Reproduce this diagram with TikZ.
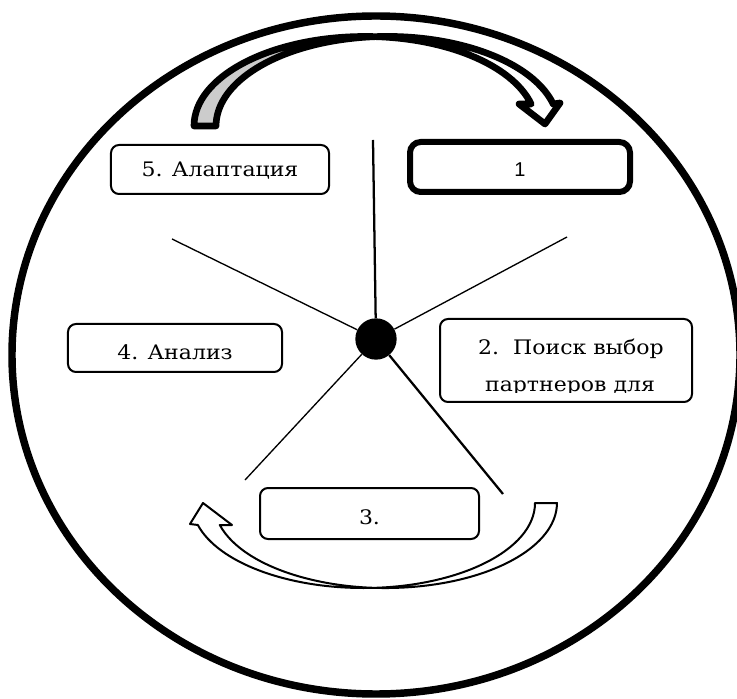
\documentclass[tikz,border=0pt]{standalone}
\usepackage{fontspec}
\setmainfont[FakeStretch=1.1]{DejaVu Serif}
\newfontfamily\plainsans{Liberation Sans}
\begin{document}
\begin{tikzpicture}[x=0.75pt, y=0.75pt,
    stage/.style={draw, rounded corners=6pt, line width=1.5pt, inner sep=0pt, text depth=0pt,
                  font=\fontsize{15}{18}\selectfont},
    bentarrow/.style={line width=5pt, line join=round},
    turnarrow/.style={line width=1.5pt, line join=round, fill=white}]
	\clip (-376,-359) rectangle (361,339);
	\draw[line width=5.6pt] (0,-16) ellipse [x radius=364, y radius=339];
	\node[circle, fill=black, inner sep=0pt, minimum size=31pt] (hub) at (0,0) {};
	\foreach \spoke/\sx/\sy/\spokew in {up/-3/199/1.7pt, upleft/-204/100/1pt, upright/191/102/1pt,
	    lowleft/-131/-141/1pt, lowright/127/-155/1.7pt}{
		\coordinate (\spoke) at (\sx,\sy);
		\draw[line width=\spokew] (hub) -- (\spoke);}
		\node[stage, text height=11pt, minimum width=163.5pt, minimum height=36.75pt] (adapt) at (-156,169.5) {5. Алаптация};
		\node[stage, text height=14pt, line width=4.5pt, rounded corners=8pt, minimum width=165pt, minimum height=37.5pt,
		      font=\plainsans\fontsize{15}{17}\selectfont] (first) at (144,172) {1};
		\node[stage, text height=18pt, minimum width=160.5pt, minimum height=36pt] (analysis) at (-201,-9) {4. Анализ};
		\node[stage, minimum width=189pt, minimum height=62.25pt] (partners) at (190,-21.5) {};
		\node[stage, text height=17pt, minimum width=164.25pt, minimum height=38.25pt] (third) at (-6.5,-174.5) {3.};
		\coordinate (cut) at (0,-54);
	\begin{scope}
		\clip (partners.north west) rectangle (partners.east |- cut);
		\node[anchor=base, font=\fontsize{15}{18}\selectfont] (partnersA) at (195,-16) {2.\ \ Поиск выбор};
		\node[anchor=base, font=\fontsize{15}{18}\selectfont] (partnersB) at (194,-53) {партнеров для};
	\end{scope}
	% top bent arrow
	\fill[black!20] (-182,213) arc[start angle=180, end angle=90, x radius=171.2, y radius=89.5]
	    -- (11.2,302.5) arc[start angle=90, end angle=180, x radius=171.2, y radius=89.5] -- cycle;
	\fill[white] (11.2,302.5) arc[start angle=90, end angle=14.2, x radius=171.2, y radius=89.5]
	    -- (184,236) -- (169,215) -- (143,235) -- (155.2,235)
	    arc[start angle=14.2, end angle=90, x radius=171.2, y radius=89.5] -- cycle;
	\draw[bentarrow] (-182,213) arc[start angle=180, end angle=14.2, x radius=171.2, y radius=89.5]
	    -- (143,235) -- (169,215) -- (184,236) -- (177.2,235)
	    arc[start angle=14.2, end angle=180, x radius=171.2, y radius=89.5] -- cycle;
	% bottom turn arrow
	\draw[turnarrow] (-178.2,-186) -- (-186,-185) -- (-173,-164) -- (-144,-186) -- (-156.2,-186)
	    arc[start angle=195, end angle=360, x radius=171.5, y radius=85]
	    -- (159,-164) arc[start angle=360, end angle=195, x radius=171.5, y radius=85] -- cycle;
\end{tikzpicture}
\end{document}
